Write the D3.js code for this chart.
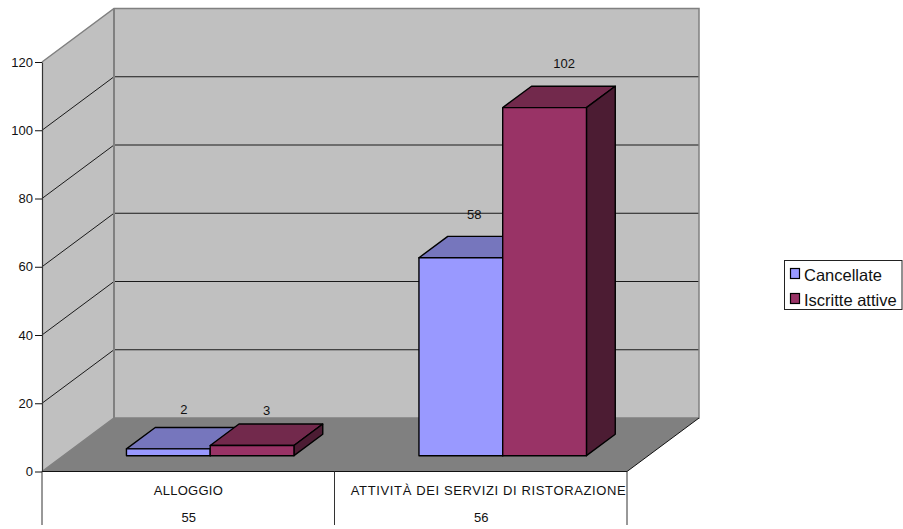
<!DOCTYPE html>
<html><head><meta charset="utf-8">
<script src="https://cdn.jsdelivr.net/npm/d3@7"></script>
<style>html,body{margin:0;padding:0;background:#fff}svg{display:block}text{font-family:"Liberation Sans",Arial,sans-serif;fill:#111}</style>
</head><body><svg id="c" width="903" height="529"></svg>
<script>
const categories = ["ALLOGGIO", "ATTIVITÀ DEI SERVIZI DI RISTORAZIONE"];
const codes = ["55", "56"];
const seriesNames = ["Cancellate", "Iscritte attive"];
const cancellate = [2, 58];
const iscritte = [3, 102];
const seriesValues = [cancellate, iscritte];
const yTicks = [0, 20, 40, 60, 80, 100, 120];
const fronts = ["#9999ff", "#993366"];
const tops = ["#7676bd", "#72294c"];
const sides = ["#4c4c80", "#4c1c33"];
// label placement relative to each bar's front top centre: [series][category]
const labelDx = [[15.5, 13.5], [14.5, 19.5]];
const labelDy = [[-34, -38], [-30, -39.5]];
const catLabelLength = [69, 275];
const catLabelShift = [0, 7.5];

const svg = d3.select("#c");
const y = d3.scaleLinear().domain([0, 120]).range([471.5, 62]);
const x = d3.scaleBand().domain(categories).range([42, 627]);
const sub = d3.scaleBand().domain(seriesNames).range([0, 167.5]);
const DX = 72, DY = -53.5;              // full depth of the box
const zFront = 0.305, zBack = 0.705;    // bars inside the depth
const P = (px, py) => px + "," + py;
const left = 42, right = 627, y0 = y(0), yTop = y(120);

// walls
svg.append("polygon").attr("points", [P(left, y0), P(left + DX, y0 + DY), P(left + DX, yTop + DY), P(left, yTop)].join(" ")).attr("fill", "#c0c0c0");
svg.append("rect").attr("x", left + DX).attr("y", yTop + DY).attr("width", right - left).attr("height", y0 - yTop).attr("fill", "#c0c0c0");
svg.append("polygon").attr("points", [P(left, y0), P(right, y0), P(right + DX, y0 + DY), P(left + DX, y0 + DY)].join(" ")).attr("fill", "#808080");

// gridlines
yTicks.filter(t => t > 0 && t < 120).forEach(t => {
  svg.append("polyline").attr("points", [P(left, y(t)), P(left + DX, y(t) + DY), P(right + DX, y(t) + DY)].join(" "))
    .attr("fill", "none").attr("stroke", "#1a1a1a").attr("stroke-width", 1);
});
// wall edges
svg.append("polyline").attr("points", [P(left, yTop), P(left + DX, yTop + DY), P(right + DX, yTop + DY), P(right + DX, y0 + DY), P(left + DX, y0 + DY), P(left, y0)].join(" "))
  .attr("fill", "none").attr("stroke", "#808080").attr("stroke-width", 1.5);
svg.append("line").attr("x1", left + DX).attr("x2", left + DX).attr("y1", yTop + DY).attr("y2", y0 + DY).attr("stroke", "#808080").attr("stroke-width", 2);
svg.append("line").attr("x1", right).attr("y1", y0).attr("x2", right + DX).attr("y2", y0 + DY).attr("stroke", "#111").attr("stroke-width", 1);

const groupOffset = (x.bandwidth() - sub.range()[1]) / 2 + DX * zFront;

// bars
seriesNames.forEach((name, s) => {
  categories.forEach((cat, i) => {
    const v = seriesValues[s][i];
    const x0 = x(cat) + groupOffset + sub(name), x1 = x0 + sub.bandwidth();
    const yb = y(0) + DY * zFront + 0.5, yt = y(v) + DY * zFront + 0.5;
    const dx = DX * (zBack - zFront), dy = DY * (zBack - zFront);
    const g = svg.append("g").attr("stroke", "#000").attr("stroke-width", 1.4).attr("stroke-linejoin", "round");
    g.append("polygon").attr("points", [P(x0, yt), P(x1, yt), P(x1 + dx, yt + dy), P(x0 + dx, yt + dy)].join(" ")).attr("fill", tops[s]);
    g.append("polygon").attr("points", [P(x1, yb), P(x1, yt), P(x1 + dx, yt + dy), P(x1 + dx, yb + dy)].join(" ")).attr("fill", sides[s]);
    g.append("rect").attr("x", x0).attr("y", yt).attr("width", x1 - x0).attr("height", yb - yt).attr("fill", fronts[s]);
  });
});

// data labels
seriesNames.forEach((name, s) => {
  categories.forEach((cat, i) => {
    const v = seriesValues[s][i];
    const cx = x(cat) + groupOffset + sub(name) + sub.bandwidth() / 2 + labelDx[s][i];
    svg.append("text").attr("x", cx).attr("y", y(v) + DY * zFront + labelDy[s][i]).attr("text-anchor", "middle").attr("font-size", 13).text(v);
  });
});

// y axis
const axis = svg.append("g").attr("transform", `translate(${left},0)`).call(d3.axisLeft(y).tickValues(yTicks).tickSize(7).tickPadding(2).tickSizeOuter(0));
axis.select(".domain").attr("stroke", "#333").attr("stroke-width", 1.2);
axis.selectAll(".tick line").attr("stroke", "#111");
axis.selectAll("text").attr("font-size", 13).attr("font-family", '"Liberation Sans"').attr("fill", "#111");

// category table
svg.append("line").attr("x1", left).attr("x2", right).attr("y1", y0).attr("y2", y0).attr("stroke", "#111").attr("stroke-width", 1.2);
[left, x(categories[1]), right].forEach(px => {
  svg.append("line").attr("x1", px).attr("x2", px).attr("y1", y0).attr("y2", 525).attr("stroke", "#333").attr("stroke-width", 1);
});
categories.forEach((cat, i) => {
  const cx = x(cat) + x.bandwidth() / 2;
  svg.append("text").attr("x", cx + catLabelShift[i]).attr("y", 495).attr("text-anchor", "middle").attr("font-size", 13)
    .attr("textLength", catLabelLength[i]).attr("lengthAdjust", "spacing").text(cat);
  svg.append("text").attr("x", cx + 0.5).attr("y", 522).attr("text-anchor", "middle").attr("font-size", 13).text(codes[i]);
});

// legend
svg.append("rect").attr("x", 784.5).attr("y", 260.5).attr("width", 117.5).attr("height", 49).attr("fill", "#fff").attr("stroke", "#222").attr("stroke-width", 1);
const ly = d3.scalePoint().domain(seriesNames).range([268.5, 293.5]);
seriesNames.forEach((name, s) => {
  svg.append("rect").attr("x", 790.5).attr("y", ly(name)).attr("width", 9).attr("height", 10).attr("fill", fronts[s]).attr("stroke", "#000").attr("stroke-width", 1.2);
  svg.append("text").attr("x", 804).attr("y", ly(name) + 12).attr("font-size", 16.5).text(name);
});
</script></body></html>
